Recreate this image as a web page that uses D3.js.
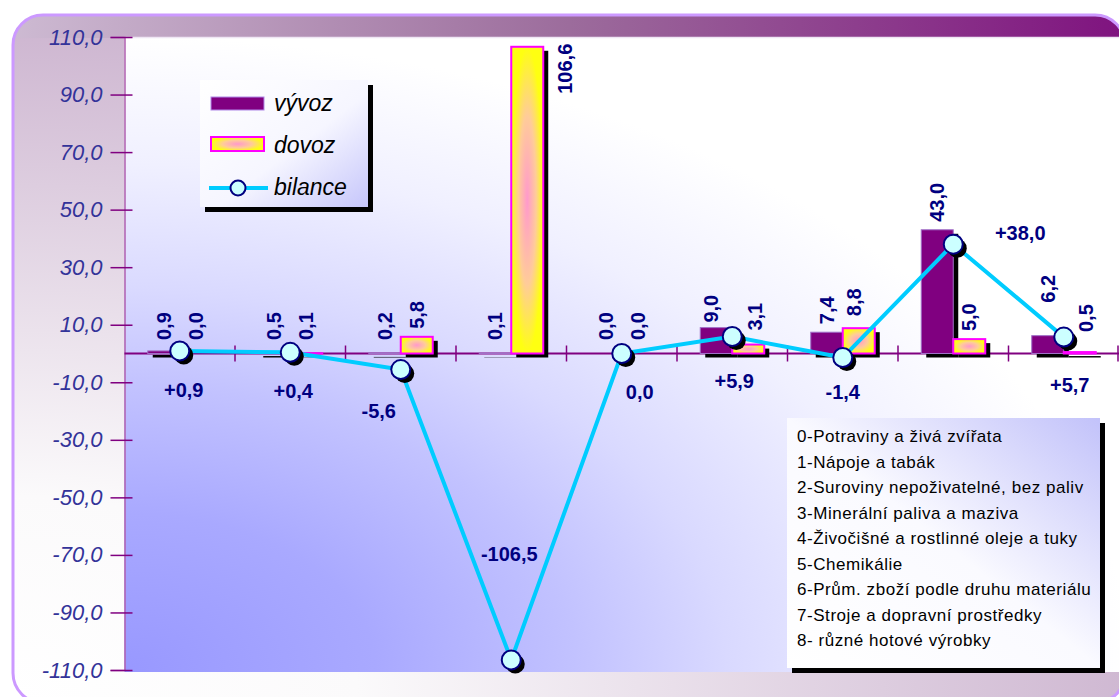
<!DOCTYPE html>
<html>
<head>
<meta charset="utf-8">
<script src="https://cdn.jsdelivr.net/npm/d3@7"></script>
<style>
  body { margin: 0; background: #ffffff; }
  text { font-family: "Liberation Sans", Arial, sans-serif; }
</style>
</head>
<body>
<div id="container"></div>
<script>
let w = 1119;
let h = 697;

// DATA
let categories = ["0", "1", "2", "3", "4", "5", "6", "7", "8"];
let vyvoz = [0.9, 0.5, 0.2, 0.1, 0.0, 9.0, 7.4, 43.0, 6.2];
let dovoz = [0.0, 0.1, 5.8, 106.6, 0.0, 3.1, 8.8, 5.0, 0.5];
let bilance = [0.9, 0.4, -5.6, -106.5, 0.0, 5.9, -1.4, 38.0, 5.7];
let yTicks = [110, 90, 70, 50, 30, 10, -10, -30, -50, -70, -90, -110];
let seriesNames = ["vývoz", "dovoz", "bilance"];
let categoryNames = [
  "0-Potraviny a živá zvířata",
  "1-Nápoje a tabák",
  "2-Suroviny nepoživatelné, bez paliv",
  "3-Minerální paliva a maziva",
  "4-Živočišné a rostlinné oleje a tuky",
  "5-Chemikálie",
  "6-Prům. zboží podle druhu materiálu",
  "7-Stroje a dopravní prostředky",
  "8- různé hotové výrobky"
];

// label placement (layout only)
let bilanceLabelOffset = [[4, 39], [3, 38], [-22, 41], [-2, -106], [18, 38], [2, 44], [0, 34], [67, -11], [6, 48]];
let barLabelShift = {
  "dovoz-3": [38, 55], "vyvoz-8": [0, -25], "dovoz-8": [6, -8],
  "dovoz-5": [7, -6], "dovoz-6": [-5, -4], "vyvoz-5": [-5, 3]
};

let plotLeft = 124.5, plotRight = 1119, plotTop = 37, plotBottom = 670;

let fmt = v => d3.format(".1f")(v).replace(".", ",").replace("\u2212", "-");
let fmtSigned = v => v === 0 ? "0,0" : d3.format("+.1f")(v).replace(".", ",").replace("\u2212", "-");

// SVG
let viz = d3.select("#container").append("svg")
    .attr("width", w)
    .attr("height", h)
    .style("display", "block")
;

let defs = viz.append("defs");

let frameGrad = defs.append("radialGradient").attr("id", "frameGrad")
    .attr("gradientUnits", "userSpaceOnUse")
    .attr("cx", 0).attr("cy", 0).attr("r", 1)
    .attr("gradientTransform", "translate(13,700) scale(1150,680)");
frameGrad.append("stop").attr("offset", 0).attr("stop-color", "#ffffff");
frameGrad.append("stop").attr("offset", 0.3).attr("stop-color", "#fbfafb");
frameGrad.append("stop").attr("offset", 1).attr("stop-color", "#cdb5d0");

let bandGrad = defs.append("linearGradient").attr("id", "bandGrad")
    .attr("x1", 0).attr("y1", 0).attr("x2", 1).attr("y2", 0);
bandGrad.append("stop").attr("offset", 0).attr("stop-color", "#cdbad2");
bandGrad.append("stop").attr("offset", 0.5).attr("stop-color", "#9c6c9c");
bandGrad.append("stop").attr("offset", 1).attr("stop-color", "#7f137f");

let plotGrad = defs.append("radialGradient").attr("id", "plotGrad")
    .attr("cx", 0).attr("cy", 1).attr("fx", 0).attr("fy", 1).attr("r", 1);
plotGrad.append("stop").attr("offset", 0).attr("stop-color", "#9898ff");
plotGrad.append("stop").attr("offset", 0.25).attr("stop-color", "#a9a9ff");
plotGrad.append("stop").attr("offset", 0.45).attr("stop-color", "#c2c2ff");
plotGrad.append("stop").attr("offset", 0.6).attr("stop-color", "#d9d9ff");
plotGrad.append("stop").attr("offset", 0.8).attr("stop-color", "#f0f0ff");
plotGrad.append("stop").attr("offset", 1).attr("stop-color", "#ffffff");

let dovozGrad = defs.append("radialGradient").attr("id", "dovozGrad")
    .attr("cx", 0.5).attr("cy", 0.5).attr("r", 0.5);
dovozGrad.append("stop").attr("offset", 0).attr("stop-color", "#ff99cc");
dovozGrad.append("stop").attr("offset", 0.55).attr("stop-color", "#ffcc99");
dovozGrad.append("stop").attr("offset", 1).attr("stop-color", "#ffff11");

let legGrad1 = defs.append("linearGradient").attr("id", "legGrad1")
    .attr("x1", 0).attr("y1", 0).attr("x2", 1).attr("y2", 1);
legGrad1.append("stop").attr("offset", 0).attr("stop-color", "#ffffff");
legGrad1.append("stop").attr("offset", 0.55).attr("stop-color", "#f6f6ff");
legGrad1.append("stop").attr("offset", 1).attr("stop-color", "#c6c6fb");

let legGrad2 = defs.append("linearGradient").attr("id", "legGrad2")
    .attr("x1", 0).attr("y1", 1).attr("x2", 1).attr("y2", 0);
legGrad2.append("stop").attr("offset", 0).attr("stop-color", "#ffffff");
legGrad2.append("stop").attr("offset", 0.5).attr("stop-color", "#fafaff");
legGrad2.append("stop").attr("offset", 1).attr("stop-color", "#c2c2fa");

defs.append("clipPath").attr("id", "frameClip")
  .append("rect")
    .attr("x", 13).attr("y", 15).attr("width", 1112).attr("height", 688).attr("rx", 30);

// FRAME
viz.append("rect")
    .attr("x", 13).attr("y", 15).attr("width", 1112).attr("height", 688).attr("rx", 30)
    .attr("fill", "url(#frameGrad)");
viz.append("rect")
    .attr("clip-path", "url(#frameClip)")
    .attr("x", 13).attr("y", 15).attr("width", 1112).attr("height", 23)
    .attr("fill", "url(#bandGrad)");

// PLOT AREA
viz.append("rect")
    .attr("x", plotLeft).attr("y", plotTop)
    .attr("width", plotRight - plotLeft + 10).attr("height", plotBottom - plotTop + 2)
    .attr("fill", "url(#plotGrad)");
viz.append("line")
    .attr("x1", plotLeft).attr("x2", w).attr("y1", plotTop + 0.5).attr("y2", plotTop + 0.5)
    .attr("stroke", "#efe6f4").attr("stroke-width", 1.5);

viz.append("rect")
    .attr("x", 13).attr("y", 15).attr("width", 1112).attr("height", 688).attr("rx", 30)
    .attr("fill", "none").attr("stroke", "#cc99ff").attr("stroke-width", 3);

// SCALES
let x = d3.scaleBand().domain(categories).range([plotLeft, plotRight]);
let xs = d3.scaleBand().domain(["vyvoz", "dovoz"]).range([-32, 32]);
let y = d3.scaleLinear().domain([-110, 110]).range([plotBottom, plotTop]);
let cx = c => x(c) + x.bandwidth() / 2;

// Y AXIS
let yAxis = viz.append("g")
    .attr("transform", "translate(" + plotLeft + ",0)")
    .call(d3.axisLeft(y).tickValues(yTicks).tickSize(14).tickPadding(8).tickFormat(fmt));
yAxis.select(".domain").attr("stroke", "#b060b0").attr("stroke-width", 1.5);
yAxis.selectAll(".tick line").attr("stroke", "#800080").attr("stroke-width", 1.5).attr("x1", 8);
yAxis.selectAll(".tick text")
    .attr("fill", "#333399")
    .style("font-size", "22px")
    .style("font-style", "italic");

// X AXIS
viz.append("line")
    .attr("x1", plotLeft).attr("x2", w)
    .attr("y1", y(0)).attr("y2", y(0))
    .attr("stroke", "#800080").attr("stroke-width", 2);
viz.selectAll(".xtick").data(categories.slice(1).concat(["end"])).enter()
  .append("line")
    .attr("class", "xtick")
    .attr("x1", d => d === "end" ? plotRight - 1 : x(d))
    .attr("x2", d => d === "end" ? plotRight - 1 : x(d))
    .attr("y1", y(0) - 8).attr("y2", y(0) + 8)
    .attr("stroke", "#800080").attr("stroke-width", 1.5);

// BARS
let barData = [];
categories.forEach((c, i) => {
  barData.push({ key: "vyvoz", i: i, c: c, v: vyvoz[i] });
  barData.push({ key: "dovoz", i: i, c: c, v: dovoz[i] });
});
let barX = d => cx(d.c) + xs(d.key);

["vyvoz", "dovoz"].forEach(key => {
  let sub = barData.filter(d => d.key === key);
  viz.selectAll(".shadow-" + key).data(sub).enter()
    .append("rect")
      .attr("class", "shadow-" + key)
      .attr("x", d => barX(d) + 5)
      .attr("y", d => y(d.v) + 4)
      .attr("width", xs.bandwidth())
      .attr("height", d => y(0) - y(d.v))
      .attr("fill", "#000000");
  viz.selectAll(".bar-" + key).data(sub).enter()
    .append("rect")
      .attr("class", "bar-" + key)
      .attr("x", d => barX(d))
      .attr("y", d => y(d.v))
      .attr("width", xs.bandwidth())
      .attr("height", d => y(0) - y(d.v))
      .attr("fill", key === "vyvoz" ? "#800080" : "url(#dovozGrad)")
      .attr("stroke", key === "vyvoz" ? "#a070c8" : "#ff00ff")
      .attr("stroke-width", key === "vyvoz" ? 1 : 2);
});

// BAR LABELS
viz.selectAll(".barlabel").data(barData).enter()
  .append("text")
    .attr("class", "barlabel")
    .attr("transform", d => {
      let s = barLabelShift[d.key + "-" + d.i] || [0, 0];
      let yb = Math.min(y(d.v) - 8, 340) + s[1];
      return "translate(" + (barX(d) + xs.bandwidth() / 2 + s[0]) + "," + yb + ") rotate(-90)";
    })
    .attr("dy", "0.36em")
    .attr("text-anchor", "start")
    .attr("fill", "#000080")
    .style("font-size", "20px")
    .style("font-weight", "bold")
    .text(d => fmt(d.v));

// BILANCE LINE
let line = d3.line()
    .x((d, i) => cx(categories[i]))
    .y(d => y(d));
viz.append("path")
    .datum(bilance)
    .attr("d", line)
    .attr("fill", "none")
    .attr("stroke", "#00ccff")
    .attr("stroke-width", 4);
viz.selectAll(".dotshadow").data(bilance).enter()
  .append("circle")
    .attr("class", "dotshadow")
    .attr("cx", (d, i) => cx(categories[i]) + 4)
    .attr("cy", d => y(d) + 4)
    .attr("r", 9.5)
    .attr("fill", "#000000");
viz.selectAll(".dot").data(bilance).enter()
  .append("circle")
    .attr("class", "dot")
    .attr("cx", (d, i) => cx(categories[i]))
    .attr("cy", d => y(d))
    .attr("r", 9.5)
    .attr("fill", "#ccffff")
    .attr("stroke", "#000080")
    .attr("stroke-width", 2);
viz.selectAll(".bilabel").data(bilance).enter()
  .append("text")
    .attr("class", "bilabel")
    .attr("x", (d, i) => cx(categories[i]) + bilanceLabelOffset[i][0])
    .attr("y", (d, i) => y(d) + bilanceLabelOffset[i][1])
    .attr("dy", "0.36em")
    .attr("text-anchor", "middle")
    .attr("fill", "#000080")
    .style("font-size", "20px")
    .style("font-weight", "bold")
    .text(d => fmtSigned(d));

// LEGEND (series)
let leg = viz.append("g").attr("transform", "translate(200,80)");
leg.append("rect").attr("x", 5).attr("y", 5).attr("width", 168).attr("height", 127).attr("fill", "#000000");
leg.append("rect").attr("width", 168).attr("height", 127).attr("fill", "url(#legGrad1)");
leg.append("rect")
    .attr("x", 11).attr("y", 17).attr("width", 53).attr("height", 13)
    .attr("fill", "#800080").attr("stroke", "#b088e8").attr("stroke-width", 1);
leg.append("rect")
    .attr("x", 11).attr("y", 57).attr("width", 53).attr("height", 14)
    .attr("fill", "url(#dovozGrad)").attr("stroke", "#ff00ff").attr("stroke-width", 2);
leg.append("line")
    .attr("x1", 9).attr("x2", 68).attr("y1", 108).attr("y2", 108)
    .attr("stroke", "#00ccff").attr("stroke-width", 4);
leg.append("circle")
    .attr("cx", 38).attr("cy", 108).attr("r", 7.5)
    .attr("fill", "#ccffff").attr("stroke", "#000080").attr("stroke-width", 2);
leg.selectAll(".legtext").data(seriesNames).enter()
  .append("text")
    .attr("class", "legtext")
    .attr("x", 74)
    .attr("y", (d, i) => 23 + i * 42)
    .attr("dy", "0.36em")
    .attr("fill", "#000000")
    .style("font-size", "23px")
    .style("font-style", "italic")
    .text(d => d);

// LEGEND (categories)
let leg2 = viz.append("g").attr("transform", "translate(787,418)");
leg2.append("rect").attr("x", 5).attr("y", 5).attr("width", 313).attr("height", 250).attr("fill", "#000000");
leg2.append("rect").attr("width", 313).attr("height", 250).attr("fill", "url(#legGrad2)");
leg2.selectAll(".cattext").data(categoryNames).enter()
  .append("text")
    .attr("class", "cattext")
    .attr("x", 10)
    .attr("y", (d, i) => 18 + i * 25.5)
    .attr("dy", "0.36em")
    .attr("fill", "#000000")
    .style("font-size", "17px")
    .style("letter-spacing", "0.55px")
    .text(d => d);
</script>
</body>
</html>
